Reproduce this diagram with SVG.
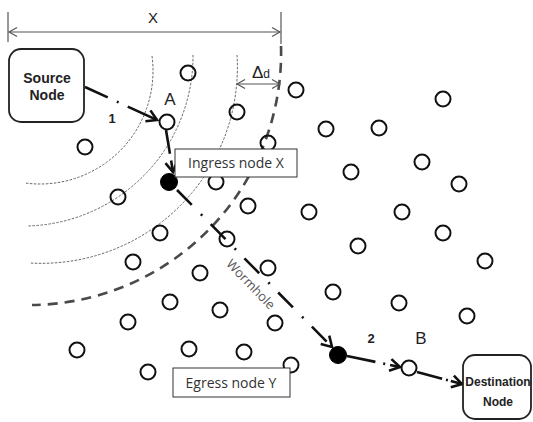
<svg xmlns="http://www.w3.org/2000/svg" width="533" height="422" viewBox="0 0 533 422">
  <style>
    .node { fill: none; stroke: #111; stroke-width: 2; }
    .hop { fill: #000; stroke: #000; stroke-width: 1; }
    .ring { fill: none; stroke: #666; stroke-width: 1; stroke-dasharray: 2.5 1.5; }
    .edge { fill: none; stroke: #4a4a4a; stroke-width: 2.6; stroke-dasharray: 10 7; }
    .dim { fill: none; stroke: #555; stroke-width: 1.2; }
    .link { fill: none; stroke: #111; stroke-width: 2.6; marker-end: url(#arrow); }
    .term rect { fill: #fff; stroke: #222; stroke-width: 1.8; }
    .term text { font-family: "Liberation Sans", Arial, sans-serif; font-weight: bold; fill: #222; text-anchor: middle; }
    .tag rect { fill: #fff; stroke: #333; stroke-width: 1; }
    .tag text { font-family: "Open Sans", "Noto Sans", sans-serif; font-size: 14px; fill: #333; text-anchor: middle; }
    .lbl { font-family: "Liberation Sans", Arial, sans-serif; fill: #222; text-anchor: middle; }
    .num { font-family: "Liberation Sans", Arial, sans-serif; font-weight: bold; font-size: 13px; fill: #222; text-anchor: middle; }
  </style>
  <defs>
    <marker id="arrow" markerUnits="userSpaceOnUse" markerWidth="30" markerHeight="30" orient="auto" refX="0" refY="0" viewBox="-15 -15 30 30" overflow="visible">
      <path d="M-10,-6 L0,0 L-10,6" fill="none" stroke="#111" stroke-width="2.6" stroke-linejoin="miter"/>
    </marker>
    <marker id="tip" markerUnits="userSpaceOnUse" markerWidth="20" markerHeight="20" orient="auto-start-reverse" refX="0" refY="0" viewBox="-10 -10 20 20" overflow="visible">
      <path d="M-8,-4.5 L0,0 L-8,4.5" fill="none" stroke="#555" stroke-width="1.2"/>
    </marker>
  </defs>

  <!-- range rings around the source -->
  <g id="rings">
    <path class="ring" d="M152,56 A113,113 0 0 1 25,183"/>
    <path class="ring" d="M193,55 A170,170 0 0 1 27,226"/>
    <path class="ring" d="M237,55 A196,196 0 0 1 30,263"/>
    <path class="edge" d="M281,46 A252,252 0 0 1 32,305"/>
  </g>

  <!-- dimensions -->
  <g id="dimensions">
    <line class="dim" x1="8" y1="12" x2="8" y2="42"/>
    <line class="dim" x1="281" y1="12" x2="281" y2="44"/>
    <line class="dim" x1="9" y1="32" x2="280" y2="32" marker-start="url(#tip)" marker-end="url(#tip)"/>
    <text class="lbl" x="153" y="23" font-size="15" fill="#333">X</text>
    <line class="dim" x1="237" y1="84" x2="280" y2="84" marker-start="url(#tip)" marker-end="url(#tip)"/>
    <text x="252" y="78" font-family="Liberation Sans, Arial, sans-serif" font-size="17" fill="#222">Δ<tspan font-size="12">d</tspan></text>
  </g>

  <!-- relay nodes -->
  <g id="relays">
    <circle class="node" cx="188" cy="73" r="7.5"/>
    <circle class="node" cx="296" cy="90" r="7.5"/>
    <circle class="node" cx="443" cy="99" r="7.5"/>
    <circle class="node" cx="237" cy="112" r="7.5"/>
    <circle class="node" cx="326" cy="129" r="7.5"/>
    <circle class="node" cx="379" cy="128" r="7.5"/>
    <circle class="node" cx="85" cy="147" r="7.5"/>
    <circle class="node" cx="268" cy="143" r="7.5"/>
    <circle class="node" cx="422" cy="162" r="7.5"/>
    <circle class="node" cx="351" cy="172" r="7.5"/>
    <circle class="node" cx="216" cy="182" r="7.5"/>
    <circle class="node" cx="459" cy="184" r="7.5"/>
    <circle class="node" cx="118" cy="197" r="7.5"/>
    <circle class="node" cx="248" cy="206" r="7.5"/>
    <circle class="node" cx="309" cy="212" r="7.5"/>
    <circle class="node" cx="402" cy="212" r="7.5"/>
    <circle class="node" cx="160" cy="233" r="7.5"/>
    <circle class="node" cx="227" cy="239" r="7.5"/>
    <circle class="node" cx="443" cy="233" r="7.5"/>
    <circle class="node" cx="358" cy="246" r="7.5"/>
    <circle class="node" cx="133" cy="262" r="7.5"/>
    <circle class="node" cx="485" cy="261" r="7.5"/>
    <circle class="node" cx="268" cy="268" r="7.5"/>
    <circle class="node" cx="200" cy="273" r="7.5"/>
    <circle class="node" cx="333" cy="292" r="7.5"/>
    <circle class="node" cx="170" cy="302" r="7.5"/>
    <circle class="node" cx="399" cy="303" r="7.5"/>
    <circle class="node" cx="220" cy="310" r="7.5"/>
    <circle class="node" cx="467" cy="316" r="7.5"/>
    <circle class="node" cx="128" cy="322" r="7.5"/>
    <circle class="node" cx="275" cy="323" r="7.5"/>
    <circle class="node" cx="77" cy="350" r="7.5"/>
    <circle class="node" cx="189" cy="349" r="7.5"/>
    <circle class="node" cx="244" cy="352" r="7.5"/>
    <circle class="node" cx="291" cy="365" r="7.5"/>
    <circle class="node" cx="148" cy="372" r="7.5"/>
  </g>

  <g id="nodeA">
    <circle class="node" cx="167" cy="122" r="7.5"/>
    <text class="lbl" x="170" y="105" font-size="17">A</text>
  </g>
  <g id="nodeB">
    <circle class="node" cx="409" cy="368" r="7.5"/>
    <text class="lbl" x="421" y="344" font-size="17">B</text>
  </g>

  <!-- connectors -->
  <g id="connectors">
    <line class="link" x1="85" y1="87" x2="157" y2="120" stroke-dasharray="25 10 2 10 32 10"/>
    <line class="link" x1="166" y1="130" x2="173" y2="172" stroke-dasharray="24 7 14 10"/>
    <line class="link" x1="177" y1="190" x2="332" y2="347" stroke-dasharray="21 13 2 12"/>
    <line class="link" x1="347" y1="356" x2="400" y2="367" stroke-dasharray="29 8 2 5 20 5"/>
    <line class="link" x1="417" y1="372" x2="462" y2="384" stroke-dasharray="26 4 2 3 20 5"/>
    <text class="num" x="112" y="123">1</text>
    <text class="num" x="371" y="343">2</text>
    <text x="0" y="0" transform="translate(250,285) rotate(46)" font-family="Open Sans, Noto Sans, sans-serif" font-size="13" fill="#555" text-anchor="middle" dominant-baseline="middle">Wormhole</text>
  </g>

  <!-- wormhole ends -->
  <g id="ingress">
    <circle class="hop" cx="169" cy="182" r="8.5"/>
  </g>
  <g id="egress">
    <circle class="hop" cx="338" cy="355" r="8.5"/>
  </g>

  <g id="ingress-label" class="tag">
    <rect x="175" y="149" width="122" height="28"/>
    <text x="236" y="168">Ingress node X</text>
  </g>
  <g id="egress-label" class="tag">
    <rect x="173" y="368" width="117" height="29"/>
    <text x="231" y="388">Egress node Y</text>
  </g>

  <g id="source" class="term">
    <rect x="9" y="49" width="75" height="73" rx="12"/>
    <text x="47" y="83" font-size="14">Source</text>
    <text x="47" y="100" font-size="14">Node</text>
  </g>
  <g id="destination" class="term">
    <rect x="463" y="355" width="68" height="64" rx="12"/>
    <text x="498" y="386" font-size="12">Destination</text>
    <text x="498" y="406" font-size="12">Node</text>
  </g>
</svg>
